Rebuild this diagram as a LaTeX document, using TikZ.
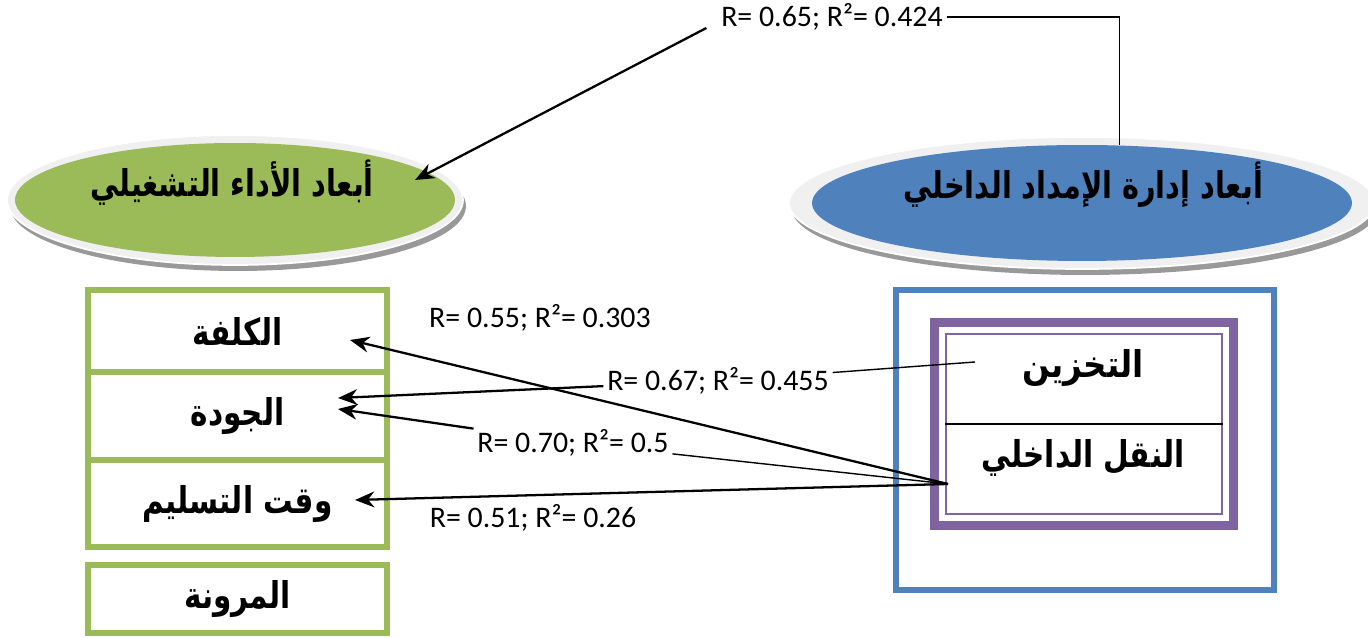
\documentclass[tikz,border=0pt]{standalone}
\usepackage{fontspec}
\setmainfont{Carlito}
\newfontfamily\arabicfont[Script=Arabic]{DejaVu Sans}
\TeXXeTstate=1
\usetikzlibrary{positioning}
\usetikzlibrary{shapes.geometric}
\usetikzlibrary{arrows.meta}
\usetikzlibrary{calc}
\definecolor{opgreen}{HTML}{9BBB59}
\definecolor{supblue}{HTML}{4F81BD}
\definecolor{inpurple}{HTML}{8064A2}
\newcommand{\artx}[2][0.8]{\scalebox{#1}[1]{\beginR #2\endR}}
\tikzset{>={Stealth[length=11pt,width=9pt]}}
\tikzset{rlab/.style={inner sep=2pt,font=\fontsize{17}{20}\selectfont}}
\tikzset{ar/.style={font=\arabicfont\bfseries\fontsize{21}{25}\selectfont}}
\tikzset{arln/.style={->,line width=1.3pt}}
\tikzset{thinln/.style={line width=0.8pt}}
\tikzset{rowbox/.style={draw=opgreen,line width=3.4pt,minimum width=5.98cm,inner sep=0pt,ar}}
\tikzset{elshadow/.style={ellipse,fill=black!40,inner sep=0pt}}
\tikzset{elrim/.style={ellipse,fill=black!6,draw=white,line width=1pt,inner sep=0pt}}

\begin{document}
\begin{tikzpicture}[x=0.02cm,y=0.02cm]
        \useasboundingbox (0,0) rectangle (1368,638);

        % the two ellipses
        \node[elshadow,minimum width=9.12cm,minimum height=2.6cm] at (238,432) {};
        \node[elrim,minimum width=9.12cm,minimum height=2.6cm] at (235,438) {};
        \node[ellipse,fill=opgreen,inner sep=0pt,minimum width=8.8cm,minimum height=2.28cm] (opel) at (235,438) {};
        \node[ar] (optxt) at (232,455) {\artx[0.78]{أبعاد الأداء التشغيلي}};

        \node[elshadow,minimum width=11.72cm,minimum height=2.64cm] at (1085,429) {};
        \node[elrim,minimum width=11.72cm,minimum height=2.64cm] at (1082,435) {};
        \node[ellipse,fill=supblue,inner sep=0pt,minimum width=10.8cm,minimum height=2.32cm] (supel) at (1082,435) {};
        \node[ar] (suptxt) at (1083,453) {\artx[0.78]{أبعاد إدارة الإمداد الداخلي}};

        % left column
        \node[rowbox,minimum height=1.64cm] (cost) at (237.5,307) {\artx{الكلفة}};
        \node[rowbox,minimum height=1.76cm] (qual) at (237.5,222) {\artx{الجودة}};
        \node[rowbox,minimum height=1.74cm] (deliv) at (237.5,134.5) {\artx{وقت التسليم}};
        \node[rowbox,minimum height=1.36cm] (flex) at (237.5,39) {\artx{المرونة}};

        % right frames
        \node[draw=supblue,line width=3.4pt,minimum width=7.56cm,minimum height=6cm] (supbox) at (1085,198) {};
        \node[draw=inpurple,line width=5.1pt,minimum width=5.98cm,minimum height=4.06cm] (inbox) at (1084,214) {};
        \node[draw=inpurple,line width=0.9pt,minimum width=5.52cm,minimum height=3.6cm] (inbox2) at (1084,214) {};
        \draw[line width=1.2pt] (inbox2.west) -- (inbox2.east);
        \node[ar] (store) at (1083,270) {\artx[0.88]{التخزين}};
        \node[ar] (trans) at (1083,180) {\artx[0.8]{النقل الداخلي}};

        % labels
        \node[rlab] (r65) at (832,621) {R= 0.65; R²= 0.424};
        \node[rlab] (r55) at (540,320) {R= 0.55; R²= 0.303};
        \node[rlab] (r67) at (718,257) {R= 0.67; R²= 0.455};
        \node[rlab] (r70) at (573,195) {R= 0.70; R²= 0.5};
        \node[rlab] (r51) at (533,120) {R= 0.51; R²= 0.26};

        % arrow ends
        \coordinate (r65o) at ($(r65.west)+(-11,-11)$);
        \coordinate (opin) at ($(opel)+(180,20)$);
        \coordinate (src) at (948,154);
        \coordinate (stsrc) at (975,276);
        \coordinate (costin) at (350,298);
        \coordinate (qualin1) at (338,240);
        \coordinate (qualin2) at (338,229);
        \coordinate (delivin) at (355,138);

        \draw[thinln] (r65) -| (supel.57);
        \draw[arln] (r65o) -- (opin);

        \draw[arln] (src) -- (costin);
        \draw[thinln] (stsrc) -- (r67);
        \draw[arln] (r67) -- (qualin1);
        \draw[thinln] (src) -- (r70);
        \draw[arln] (r70) -- (qualin2);
        \draw[arln] (src) -- (delivin);
\end{tikzpicture}
\end{document}
